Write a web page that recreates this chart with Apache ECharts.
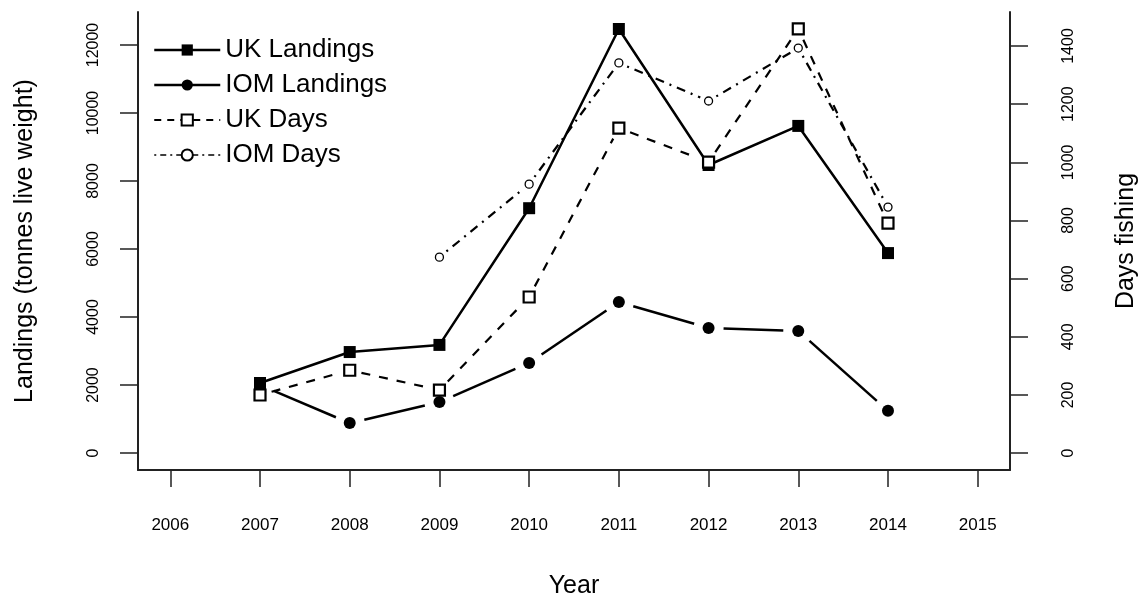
<!DOCTYPE html>
<html>
<head>
<meta charset="utf-8">
<title>UK and IOM landings and days fishing</title>
<script src="https://cdn.jsdelivr.net/npm/echarts@6/dist/echarts.min.js"></script>
<style>
  html, body { margin: 0; padding: 0; background: #fff; }
  #chart { width: 1147px; height: 600px; }
</style>
</head>
<body>
<div id="chart"></div>
<script>
// Annual series, 2007-2014
const years = [2007, 2008, 2009, 2010, 2011, 2012, 2013, 2014];
const ukLandings  = [2060, 2970, 3180, 7200, 12470, 8470, 9620, 5880];   // tonnes
const iomLandings = [2000, 880, 1500, 2650, 4440, 3680, 3590, 1240];     // tonnes
const ukDays      = [200, 285, 217, 537, 1118, 1001, 1459, 791];         // days
const iomDays     = [null, null, 674, 925, 1342, 1211, 1393, 846];       // days

// Axis tick values
const yearTicks = [2006, 2007, 2008, 2009, 2010, 2011, 2012, 2013, 2014, 2015];
const landingTicks = [0, 2000, 4000, 6000, 8000, 10000, 12000];
const dayTicks = [0, 200, 400, 600, 800, 1000, 1200, 1400];

const FONT = '"Liberation Sans", Arial, sans-serif';
const INK = '#000';

const pairs = vals => years.map((y, i) => [y, vals[i]]);

// Line segments between consecutive points, stopped short of each marker
function gappedSegments(vals, yAxisIndex, lineStyle, gap) {
  const segs = [];
  for (let i = 0; i < years.length - 1; i++) {
    if (vals[i] == null || vals[i + 1] == null) continue;
    segs.push([years[i], vals[i], years[i + 1], vals[i + 1]]);
  }
  return {
    type: 'custom',
    yAxisIndex: yAxisIndex,
    silent: true,
    z: 1,
    dimensions: ['x1', 'y1', 'x2', 'y2'],
    encode: { x: [0, 2], y: [1, 3] },
    data: segs,
    renderItem: function (params, api) {
      const a = api.coord([api.value(0), api.value(1)]);
      const b = api.coord([api.value(2), api.value(3)]);
      const dx = b[0] - a[0], dy = b[1] - a[1];
      const len = Math.hypot(dx, dy);
      if (len <= 2 * gap) return null;
      const ux = dx / len, uy = dy / len;
      return {
        type: 'line',
        shape: {
          x1: a[0] + ux * gap, y1: a[1] + uy * gap,
          x2: b[0] - ux * gap, y2: b[1] - uy * gap
        },
        style: {
          stroke: INK,
          lineWidth: lineStyle.width,
          lineDash: lineStyle.dash || null,
          fill: null
        }
      };
    }
  };
}

const solid = { width: 2.5 };
const dashed = { width: 2.2, dash: [9, 9] };
const dotdash = { width: 2.2, dash: [2, 6, 9, 6] };

const chart = echarts.init(document.getElementById('chart'), null, { renderer: 'canvas' });

chart.setOption({
  animation: false,
  backgroundColor: '#fff',
  textStyle: { fontFamily: FONT, color: INK },
  grid: { left: 138, top: 12, width: 872, height: 458, containLabel: false, outerBoundsMode: 'none' },
  legend: {
    orient: 'vertical',
    left: 148,
    top: 30,
    itemWidth: 66,
    itemHeight: 14,
    itemGap: 5,
    selectedMode: false,
    textStyle: { fontSize: 26, color: INK, fontFamily: FONT, lineHeight: 30 },
    data: [
      { name: 'UK Landings', lineStyle: { color: INK, width: 2.5, type: 'solid', opacity: 1 } },
      { name: 'IOM Landings', lineStyle: { color: INK, width: 2.5, type: 'solid', opacity: 1 } },
      { name: 'UK Days', lineStyle: { color: INK, width: 2, type: [7, 6], opacity: 1 } },
      { name: 'IOM Days', lineStyle: { color: INK, width: 1.5, type: [2, 4, 6, 4], opacity: 1 } }
    ]
  },
  xAxis: {
    type: 'value',
    min: 2005.64,
    max: 2015.36,
    name: 'Year',
    nameLocation: 'middle',
    nameGap: 104,
    nameTextStyle: { fontSize: 25, color: INK, fontFamily: FONT },
    axisLine: { show: true, onZero: false, lineStyle: { color: '#222', width: 2 } },
    axisTick: { show: true, length: 17, customValues: yearTicks, lineStyle: { color: '#222', width: 1.5 } },
    axisLabel: { customValues: yearTicks, formatter: v => String(v), margin: 47, fontSize: 17, color: INK, fontFamily: FONT },
    splitLine: { show: false }
  },
  yAxis: [
    {
      type: 'value',
      min: -499,
      max: 12970,
      position: 'left',
      name: 'Landings (tonnes live weight)',
      nameLocation: 'middle',
      nameGap: 100,
      nameTextStyle: { fontSize: 25, color: INK, fontFamily: FONT },
      axisLine: { show: true, onZero: false, lineStyle: { color: '#222', width: 2 } },
      axisTick: { show: true, length: 18, customValues: landingTicks, lineStyle: { color: '#222', width: 1.5 } },
      axisLabel: { customValues: landingTicks, formatter: v => String(v), rotate: 90, margin: 36, fontSize: 16, color: INK, fontFamily: FONT },
      splitLine: { show: false }
    },
    {
      type: 'value',
      min: -58,
      max: 1517,
      position: 'right',
      name: 'Days fishing',
      nameLocation: 'middle',
      nameGap: 104,
      nameTextStyle: { fontSize: 25, color: INK, fontFamily: FONT },
      axisLine: { show: true, onZero: false, lineStyle: { color: '#222', width: 2 } },
      axisTick: { show: true, length: 18, customValues: dayTicks, lineStyle: { color: '#222', width: 1.5 } },
      axisLabel: { customValues: dayTicks, formatter: v => String(v), rotate: 90, margin: 51, fontSize: 16, color: INK, fontFamily: FONT },
      splitLine: { show: false }
    }
  ],
  series: [
    {
      name: 'UK Landings',
      type: 'line',
      yAxisIndex: 0,
      data: pairs(ukLandings),
      symbol: 'rect',
      symbolSize: 12,
      showAllSymbol: true,
      z: 2,
      lineStyle: { color: INK, width: solid.width },
      itemStyle: { color: INK, borderWidth: 0 }
    },
    {
      name: 'IOM Landings',
      type: 'line',
      yAxisIndex: 0,
      data: pairs(iomLandings),
      symbol: 'circle',
      symbolSize: 12,
      z: 3,
      lineStyle: { color: INK, width: 2.5, opacity: 0 },
      itemStyle: { color: INK, borderWidth: 0 }
    },
    {
      name: 'UK Days',
      type: 'line',
      yAxisIndex: 1,
      data: pairs(ukDays),
      symbol: 'rect',
      symbolSize: 11,
      z: 4,
      lineStyle: { color: INK, width: 2, opacity: 0 },
      itemStyle: { color: '#fff', borderColor: INK, borderWidth: 2.2 }
    },
    {
      name: 'IOM Days',
      type: 'line',
      yAxisIndex: 1,
      data: pairs(iomDays),
      symbol: 'circle',
      symbolSize: 8,
      connectNulls: false,
      z: 5,
      lineStyle: { color: INK, width: 2, opacity: 0 },
      itemStyle: { color: '#fff', borderColor: INK, borderWidth: 1.3 }
    },
    gappedSegments(iomLandings, 0, solid, 15),
    gappedSegments(ukDays, 1, dashed, 12),
    gappedSegments(iomDays, 1, dotdash, 9)
  ]
});
</script>
</body>
</html>
